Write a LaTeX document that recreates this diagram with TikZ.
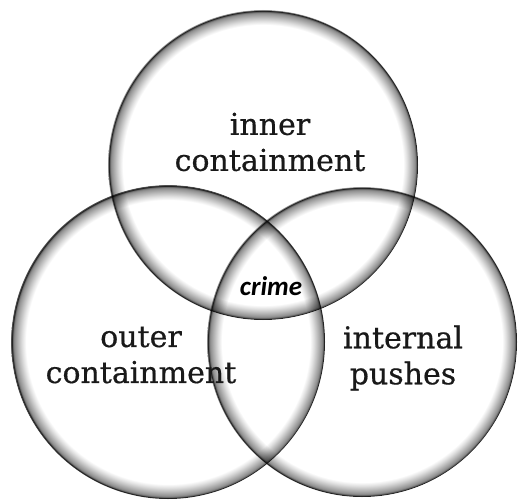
\documentclass[tikz,border=0pt]{standalone}
\usepackage{fontspec}
\setmainfont{DejaVu Serif}[FakeBold=0.5]
\newfontfamily\crimefont{Carlito}
% grey rim that fades towards the centre of a circle (25bp = radius)
\pgfdeclareradialshading{rim}{\pgfpoint{0bp}{0bp}}{%
  color(0bp)=(white); color(22.6bp)=(white);
  color(23.2bp)=(black!12); color(23.7bp)=(black!24);
  color(24.1bp)=(black!34); color(24.45bp)=(black!43);
  color(24.66bp)=(black!52); color(24.76bp)=(black!80);
  color(24.9bp)=(black!92); color(25bp)=(black!70);
  color(25.05bp)=(white); color(50bp)=(white)}
\begin{document}
\begin{tikzpicture}[x=1pt,y=-1pt,
  labeltext/.style={font=\fontsize{30}{36}\selectfont, text=black!90, align=center, inner sep=0pt},
  crimetext/.style={font=\crimefont\bfseries\itshape\fontsize{27}{30}\selectfont, text=black, inner sep=0pt},
  ring/.style={shading=rim, blend mode=multiply}]
\useasboundingbox (0,0) rectangle (519,500);
\fill[white] (0,0) rectangle (519,500);

% centres of the three circles
\coordinate (ctop)   at (263,165);
\coordinate (cleft)  at (168,342);
\coordinate (cright) at (362,342);

\shade[ring] (ctop)   circle (155);
\shade[ring] (cleft)  circle (157);
\shade[ring] (cright) circle (155);

\node[labeltext] (inner)  at (270,142) {inner\\containment};
\node[labeltext] (outer)  at (141,355) {outer\\containment};
\node[labeltext] (pushes) at (403,358) {internal\\pushes};
\node[crimetext, anchor=base] (crime) at (271,295) {crime};
\end{tikzpicture}
\end{document}
